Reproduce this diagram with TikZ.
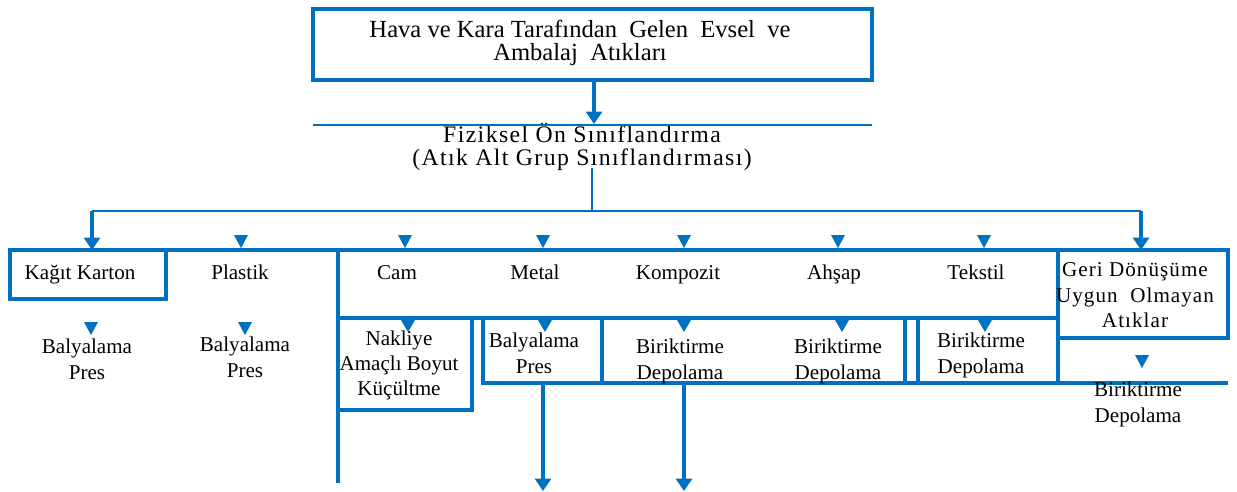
\documentclass[tikz,border=0pt]{standalone}
\usepackage{fontspec}
\setmainfont{Liberation Serif}
\usetikzlibrary{arrows.meta}
\definecolor{flowblue}{RGB}{0,112,192}

\begin{document}
\begin{tikzpicture}[x=0.02cm,y=-0.02cm,
    line/.style={color=flowblue,line width=2pt},
    thinline/.style={color=flowblue,line width=1.5pt},
    flow/.style={line,-{Triangle[width=9pt,length=7pt]}},
    txt/.style={font=\fontsize{12}{14.5}\selectfont,align=center,inner sep=0pt,
        execute at begin node=\strut,execute at end node=\strut},
    bigtxt/.style={txt,font=\fontsize{14}{13}\selectfont}]
    \useasboundingbox (0,0) rectangle (1237,491);

    %topbox
    \draw [line,line width=2.5pt] (313,9) rectangle (872,80);
    \node[bigtxt] (source) at (580,44) {Hava ve Kara Tarafından\ \ Gelen\ \ Evsel\ \ ve\\Ambalaj\ \ Atıkları};
    \coordinate (topout) at (594,80);
    \coordinate (sortin) at (594,124);
    \draw [flow] (topout) -- (sortin);

    %sorting
    \node[bigtxt,font=\fontsize{13.5}{13.5}\selectfont\addfontfeature{LetterSpace=6}] (sorting) at (582,148) {Fiziksel Ön Sınıflandırma\\(Atık Alt Grup Sınıflandırması)};
    \draw [thinline] (313,125) -- (872,125);
    \coordinate (sortout) at (592,168);
    \coordinate (split) at (592,211);
    \draw [thinline] (sortout) -- (split);
    \coordinate (leftend) at (92,211);
    \coordinate (rightend) at (1141,211);
    \draw [thinline] (leftend) -- (rightend);
    \draw [flow] (leftend) -- (92,250);
    \draw [flow] (rightend) -- (1141,250);
    \foreach \x in {241,405,543,684,838,984}
        \fill [flowblue] (\x-7,235) -- (\x+7,235) -- (\x,248) -- cycle;

    %groups
    \draw [line] (10,250) -- (1228,250);
    \draw [line] (10,250) rectangle (166,299);
    \draw [line] (1058,250) rectangle (1228,338);
    \draw [line] (1058,338) -- (1058,383);
    \draw [line] (338,250) -- (338,483);
    \draw [line] (338,318) -- (1058,318);
    \node[txt] (kagit) at (80,274) {Kağıt Karton};
    \node[txt] (plastik) at (240,274) {Plastik};
    \node[txt] (cam) at (397,274) {Cam};
    \node[txt] (metal) at (535,274) {Metal};
    \node[txt] (kompozit) at (678,274) {Kompozit};
    \node[txt] (ahsap) at (834,274) {Ahşap};
    \node[txt] (tekstil) at (976,274) {Tekstil};
    \node[txt,font=\fontsize{12}{14.5}\selectfont\addfontfeature{LetterSpace=5}] (geri) at (1135,299) {Geri Dönüşüme\\Uygun\ \ Olmayan\\Atıklar};

    %processes
    \draw [line] (338,410) -- (472,410) -- (472,318);
    \draw [line] (483,318) -- (483,383) -- (1228,383);
    \draw [line] (602,318) -- (602,383);
    \draw [line] (905,318) -- (905,383);
    \draw [line] (918,318) -- (918,383);
    \foreach \x in {408,545,684,842,985}
        \fill [flowblue] (\x-7,320) -- (\x+7,320) -- (\x,332) -- cycle;
    \foreach \x in {91,245}
        \fill [flowblue] (\x-7,322) -- (\x+7,322) -- (\x,335) -- cycle;
    \fill [flowblue] (1135,355) -- (1149,355) -- (1142,368) -- cycle;
    \node[txt] (kagitpres) at (87,363) {Balyalama\\Pres};
    \node[txt] (plastikpres) at (245,361) {Balyalama\\Pres};
    \node[txt] (camboyut) at (399,367) {Nakliye\\Amaçlı Boyut\\Küçültme};
    \node[txt] (metalpres) at (534,357) {Balyalama\\Pres};
    \node[txt] (kompozitdepo) at (680,363) {Biriktirme\\Depolama};
    \node[txt] (ahsapdepo) at (838,363) {Biriktirme\\Depolama};
    \node[txt] (tekstildepo) at (981,357) {Biriktirme\\Depolama};
    \node[txt] (geridepo) at (1138,406) {Biriktirme\\Depolama};

    %outputs
    \coordinate (metalout) at (543,383);
    \coordinate (kompozitout) at (684,383);
    \draw [flow] (metalout) -- (543,491);
    \draw [flow] (kompozitout) -- (684,491);
\end{tikzpicture}
\end{document}
